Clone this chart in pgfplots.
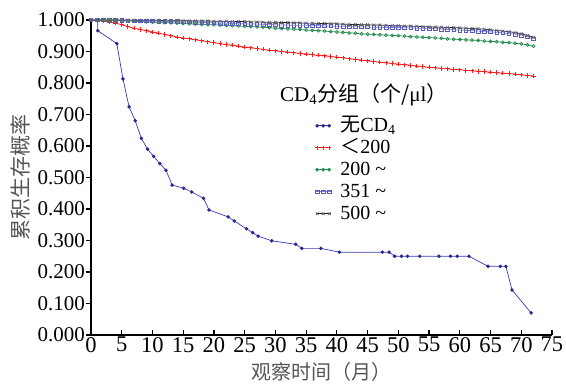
\documentclass[border=0pt]{standalone}
\usepackage{pgfplots}
\usepackage{pgfplotstable}
\pgfplotsset{compat=1.18}
\usepackage{fontspec}
\setmainfont{Liberation Serif}
\newfontfamily\cjk{Noto Sans CJK SC}

\definecolor{cblue}{HTML}{3A3AB4}
\definecolor{cbluem}{HTML}{26268F}
\definecolor{cred}{HTML}{FF1A1A}
\definecolor{cgreen}{HTML}{1F8A4C}
\definecolor{cpurple}{HTML}{7F7FD0}
\definecolor{cpurplem}{HTML}{5A5AB8}
\definecolor{cblack}{HTML}{222222}
\definecolor{cgrey}{HTML}{555555}

\pgfplotstableread{
x y
1.1 1.000
1.1 0.966
4.2 0.925
5.2 0.813
6.2 0.724
7.2 0.680
8.2 0.624
9.2 0.590
10.2 0.567
11.2 0.544
12.2 0.523
13.2 0.476
15.1 0.466
16.4 0.454
18.3 0.434
19.2 0.397
22.3 0.375
23.3 0.362
25.3 0.337
26.3 0.325
27.2 0.314
29.4 0.299
33.3 0.288
34.3 0.275
37.4 0.275
40.4 0.263
47.4 0.263
48.5 0.263
49.4 0.250
50.5 0.250
51.5 0.250
53.5 0.250
56.6 0.250
58.5 0.250
59.6 0.250
61.5 0.250
64.6 0.218
66.6 0.218
67.5 0.218
68.5 0.143
71.6 0.070
}\tblnone

\pgfplotstableread{
x y
0 1.000
1 0.999
2 0.997
3 0.994
4 0.990
5 0.985
6 0.979
7 0.974
8 0.970
9 0.966
10 0.962
11 0.958
12 0.954
13 0.950
14 0.946
15 0.943
16 0.940
17 0.937
18 0.934
19 0.931
20 0.928
21 0.925
22 0.922
23 0.920
24 0.917
25 0.914
26 0.912
27 0.909
28 0.907
29 0.904
30 0.902
31 0.900
32 0.898
33 0.896
34 0.894
35 0.892
36 0.890
37 0.888
38 0.886
39 0.884
40 0.882
41 0.880
42 0.877
43 0.875
44 0.873
45 0.870
46 0.868
47 0.866
48 0.864
49 0.862
50 0.860
51 0.858
52 0.856
53 0.854
54 0.852
55 0.850
56 0.848
57 0.846
58 0.845
59 0.843
60 0.842
61 0.840
62 0.839
63 0.837
64 0.836
65 0.834
66 0.833
67 0.831
68 0.830
69 0.828
70 0.826
71 0.824
72 0.822
}\tbllow

\pgfplotstableread{
x y
0 1.000
1 1.000
2 0.999
3 0.999
4 0.998
5 0.997
6 0.997
7 0.996
8 0.995
9 0.994
10 0.993
11 0.993
12 0.992
13 0.991
14 0.990
15 0.989
16 0.988
17 0.987
18 0.986
19 0.985
20 0.985
21 0.984
22 0.983
23 0.982
24 0.981
25 0.980
26 0.979
27 0.978
28 0.977
29 0.976
30 0.974
31 0.973
32 0.972
33 0.971
34 0.970
35 0.968
36 0.967
37 0.966
38 0.965
39 0.963
40 0.962
41 0.961
42 0.959
43 0.958
44 0.956
45 0.955
46 0.954
47 0.953
48 0.952
49 0.951
50 0.950
51 0.949
52 0.947
53 0.946
54 0.945
55 0.944
56 0.943
57 0.942
58 0.940
59 0.939
60 0.938
61 0.937
62 0.936
63 0.935
64 0.933
65 0.932
66 0.931
67 0.929
68 0.928
69 0.926
70 0.924
71 0.921
72 0.917
}\tblmid

\pgfplotstableread{
x y
0 1.000
1 1.000
2 1.000
3 0.999
4 0.999
5 0.999
6 0.998
7 0.998
8 0.998
9 0.997
10 0.997
11 0.996
12 0.996
13 0.995
14 0.995
15 0.994
16 0.994
17 0.993
18 0.992
19 0.992
20 0.991
21 0.990
22 0.990
23 0.989
24 0.988
25 0.988
26 0.987
27 0.987
28 0.986
29 0.985
30 0.985
31 0.984
32 0.984
33 0.983
34 0.983
35 0.983
36 0.982
37 0.982
38 0.981
39 0.981
40 0.980
41 0.980
42 0.979
43 0.979
44 0.978
45 0.978
46 0.977
47 0.977
48 0.976
49 0.976
50 0.976
51 0.975
52 0.975
53 0.974
54 0.974
55 0.973
56 0.972
57 0.971
58 0.970
59 0.969
60 0.968
61 0.967
62 0.966
63 0.965
64 0.963
65 0.962
66 0.961
67 0.959
68 0.957
69 0.955
70 0.952
71 0.947
72 0.940
}\tblhigh

\pgfplotstableread{
x y
0 1.000
1 1.000
2 1.000
3 1.000
4 1.000
5 1.000
6 1.000
7 0.999
8 0.999
9 0.999
10 0.999
11 0.999
12 0.998
13 0.998
14 0.998
15 0.998
16 0.997
17 0.997
18 0.997
19 0.997
20 0.996
21 0.996
22 0.996
23 0.995
24 0.995
25 0.995
26 0.994
27 0.994
28 0.993
29 0.993
30 0.993
31 0.992
32 0.992
33 0.991
34 0.991
35 0.990
36 0.990
37 0.989
38 0.989
39 0.988
40 0.988
41 0.987
42 0.986
43 0.986
44 0.985
45 0.985
46 0.984
47 0.984
48 0.983
49 0.982
50 0.982
51 0.981
52 0.981
53 0.980
54 0.979
55 0.978
56 0.978
57 0.977
58 0.976
59 0.976
60 0.975
61 0.974
62 0.973
63 0.972
64 0.971
65 0.969
66 0.967
67 0.965
68 0.963
69 0.960
70 0.956
71 0.951
72 0.945
}\tbltop

\begin{document}
\begin{tikzpicture}
\useasboundingbox (-91pt,-53pt) rectangle (475pt,335pt);
\begin{axis}[
  scale only axis, width=461pt, height=315pt,
  xmin=0, xmax=75, ymin=0, ymax=1,
  axis x line=bottom, axis y line=left,
  axis line style={-, line width=1.2pt, black},
  xtick={0,5,10,15,20,25,30,35,40,45,50,55,60,65,70,75},
  ytick={0,0.1,0.2,0.3,0.4,0.5,0.6,0.7,0.8,0.9,1.0},
  xtick align=inside, ytick align=outside,
  major tick length=5pt,
  tick style={line width=1.2pt, black},
  /pgf/number format/assume math mode=true,
  yticklabel style={font=\fontsize{21}{21}\selectfont, /pgf/number format/fixed, /pgf/number format/fixed zerofill, /pgf/number format/precision=3, inner sep=1pt},
  xticklabel style={font=\fontsize{22.5}{22.5}\selectfont, inner sep=2pt},
  xlabel={\cjk 观察时间（月）},
  ylabel={\cjk 累积生存概率},
  xlabel style={at={(axis description cs:0.5,-0.117)}, anchor=center, font=\fontsize{20}{20}\selectfont, text=cgrey},
  ylabel style={at={(axis description cs:-0.154,0.5)}, anchor=center, font=\fontsize{21}{21}\selectfont, text=cgrey},
  legend cell align=left,
  legend image code/.code={
    \draw[#1, mark=none] (0pt,0pt) -- (15pt,0pt);
    \draw[#1, only marks] plot coordinates {(1.5pt,0pt) (7.5pt,0pt) (13.5pt,0pt)};
  },
  legend style={at={(axis cs:36.4,0.695)}, anchor=north west, draw=none, fill=none,
    font=\fontsize{20}{20}\selectfont, inner sep=0pt, row sep=3pt,
    nodes={inner sep=0pt, text height=15pt, text depth=4pt},
    /tikz/every odd column/.append style={column sep=9pt}},
]
\addplot[color=cblue, line width=0.7pt, mark=*, mark size=1.4pt, mark options={fill=cbluem, draw=cbluem}] table[x=x,y=y] {\tblnone};
\addlegendentry{{\cjk 无}CD\textsubscript{4}}
\addplot[color=cred, line width=0.8pt, mark=+, mark size=2.2pt, mark options={line width=0.9pt, draw=cred}] table[x=x,y=y] {\tbllow};
\addlegendentry{{\cjk ＜}200}
\addplot[color=cgreen, line width=0.7pt, mark=o, mark size=1.5pt, mark options={line width=0.7pt}] table[x=x,y=y] {\tblmid};
\addlegendentry{200 \textasciitilde}
\addplot[color=cpurple, line width=0.7pt, mark=square, mark size=1.8pt, mark options={draw=cpurplem, line width=0.6pt}] table[x=x,y=y] {\tblhigh};
\addlegendentry{351 \textasciitilde}
\addplot[color=cblack, line width=0.7pt, mark=x, mark size=2pt, mark options={draw=cblack!70, line width=0.6pt}] table[x=x,y=y] {\tbltop};
\addlegendentry{500 \textasciitilde}
\node[anchor=west, font=\fontsize{21}{21}\selectfont, inner sep=0pt] at (axis cs:30.75,0.762) {CD\textsubscript{4}{\cjk 分组（个/}μl{\cjk ）}};
\end{axis}
\end{tikzpicture}
\end{document}
